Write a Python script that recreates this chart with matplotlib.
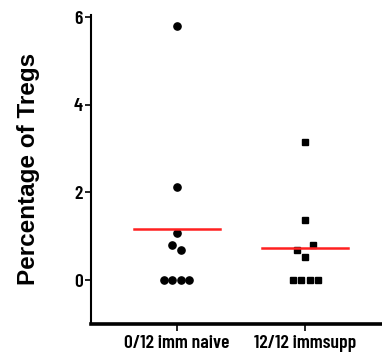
import matplotlib

matplotlib.use("Agg")
import matplotlib.pyplot as plt
import numpy as np

groups = ["0/12 imm naive", "12/12 immsupp"]
naive = [5.8, 2.13, 1.07, 0.8, 0.68, 0.0, 0.0, 0.0, 0.0]
naive_dx = [0.0, 0.0, 0.0, -0.033, 0.033, -0.099, -0.033, 0.033, 0.099]
immsupp = [3.16, 1.37, 0.79, 0.68, 0.53, 0.0, 0.0, 0.0, 0.0]
immsupp_dx = [0.0, 0.0, 0.066, -0.066, 0.0, -0.095, -0.03, 0.04, 0.1]

tick_font = ["Barlow Condensed", "Roboto Condensed", "Liberation Sans"]

fig = plt.figure(figsize=(3.82, 3.56), dpi=100)
ax = fig.add_axes([0.238, 0.0904, 0.762, 0.8676])

ax.plot(np.array(naive_dx) + 0, naive, "o", color="black", markersize=5.2, linestyle="none")
ax.plot(np.array(immsupp_dx) + 1, immsupp, "s", color="black", markersize=5.0, linestyle="none")

# mean lines
for i, vals in enumerate([naive, immsupp]):
    m = np.mean(vals)
    ax.plot([i - 0.335, i + 0.335], [m, m], color="#ff2020", lw=1.8)

ax.set_xlim(-0.668, 1.6)
ax.set_ylim(-1, 6.05)
ax.set_yticks([0, 2, 4, 6])
ax.set_xticks([0, 1])
ax.set_xticklabels(groups)

for lab in ax.get_xticklabels() + ax.get_yticklabels():
    lab.set_family(tick_font)
    lab.set_fontweight(600)
    lab.set_fontsize(14)

ax.set_ylabel("Percentage of Tregs", fontsize=17.5, fontweight="bold",
              family="Liberation Sans", labelpad=24)

ax.spines["top"].set_visible(False)
ax.spines["right"].set_visible(False)
ax.spines["left"].set_linewidth(1.5)
ax.spines["bottom"].set_linewidth(2.6)
ax.tick_params(axis="y", length=4, width=1.2, pad=2)
ax.tick_params(axis="x", length=5, width=1.2, pad=3)

fig.savefig("out.png", dpi=100)
